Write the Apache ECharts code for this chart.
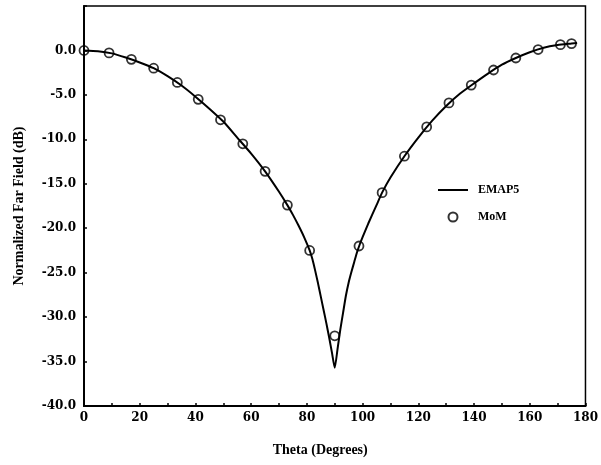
<!DOCTYPE html>
<html>
<head>
<meta charset="utf-8">
<script src="https://cdn.jsdelivr.net/npm/echarts@6/dist/echarts.min.js"></script>
<style>html,body{margin:0;padding:0;background:#fff}#c{width:601px;height:465px}</style>
</head>
<body>
<div id="c"></div>
<script>
// EMAP5 curve (Theta in degrees, normalized far field in dB)
const thetaLine = [0,5,10,15,20,25,30,35,40,45,50,55,60,65,70,73,75,77,79,81,82,83,84,85,86,87,88,89,90,91,92,93,94,95,96,97,98,99,100,102,105,107,110,115,120,125,130,135,140,145,150,155,160,165,170,175,177];
const emap5 = [0.0,-0.08,-0.33,-0.8,-1.35,-2.0,-2.9,-3.95,-5.2,-6.55,-8.0,-9.8,-11.6,-13.6,-15.9,-17.4,-18.5,-19.7,-21.0,-22.5,-23.5,-24.8,-26.2,-27.7,-29.2,-30.7,-32.3,-34.0,-35.7,-33.6,-31.4,-29.5,-27.6,-26.1,-24.9,-23.8,-22.7,-21.8,-21.0,-19.5,-17.4,-16.0,-14.3,-11.9,-9.8,-7.9,-6.25,-4.85,-3.7,-2.6,-1.6,-0.85,-0.2,0.3,0.6,0.78,0.85];
// MoM samples
const thetaMoM = [0,9,17,25,33.5,41,49,57,65,73,81,90,98.7,107,115,123,131,139,147,155,163,171,175];
const mom = [0.0,-0.28,-1.0,-2.0,-3.6,-5.5,-7.8,-10.5,-13.6,-17.4,-22.5,-32.1,-22.0,-16.0,-11.9,-8.6,-5.9,-3.9,-2.2,-0.85,0.1,0.65,0.77];
const yTicks = [-40,-35,-30,-25,-20,-15,-10,-5,0];

const chart = echarts.init(document.getElementById('c'), null, {renderer:'canvas'});
const lbl = {color:'#000', fontFamily:'DejaVu Serif', fontWeight:'bold', fontSize:12};
const nm = {color:'#000', fontFamily:'Liberation Serif', fontWeight:'bold', fontSize:14};
chart.setOption({
  animation:false,
  backgroundColor:'#fff',
  grid:{left:84, right:10, top:6, bottom:59, show:true, borderColor:'#000', borderWidth:1.5},
  xAxis:{type:'value', min:0, max:180, interval:20,
    name:'Theta (Degrees)', nameLocation:'middle', nameGap:37,
    nameTextStyle:Object.assign({}, nm, {padding:[0,29,0,0]}),
    axisLine:{show:true, onZero:false, lineStyle:{color:'#000', width:2}},
    axisTick:{show:true, inside:true, length:3, lineStyle:{color:'#000', width:1.5}},
    minorTick:{show:true, splitNumber:2, length:3, lineStyle:{color:'#000', width:1.5}},
    splitLine:{show:false},
    axisLabel:Object.assign({}, lbl, {margin:6})},
  yAxis:{type:'value', min:-40, max:5, interval:5,
    name:'Normalized Far Field (dB)', nameLocation:'middle', nameGap:58,
    nameTextStyle:nm,
    axisLine:{show:true, onZero:false, lineStyle:{color:'#000', width:2}},
    axisTick:{show:true, inside:true, length:3, lineStyle:{color:'#000', width:1.5}},
    splitLine:{show:false},
    axisLabel:Object.assign({}, lbl, {margin:8, formatter:function(v){return yTicks.indexOf(v)>=0 ? v.toFixed(1) : '';}})},
  legend:{orient:'vertical', left:438, top:184, padding:0, itemWidth:30, itemHeight:9, itemGap:15,
    textStyle:Object.assign({}, nm, {fontSize:12, padding:[0,0,0,5]}),
    data:[{name:'EMAP5', icon:'path://M0,0L30,0L30,2L0,2Z', itemStyle:{color:'#000'}}, {name:'MoM'}]},
  series:[
    {name:'EMAP5', type:'line', data:thetaLine.map((t,i)=>[t, emap5[i]]), symbol:'none', smooth:0.2,
     lineStyle:{color:'#000', width:2}, itemStyle:{color:'#000'}},
    {name:'MoM', type:'scatter', data:thetaMoM.map((t,i)=>[t, mom[i]]), symbol:'circle', symbolSize:9,
     itemStyle:{color:'rgba(255,255,255,0)', borderColor:'#000', borderWidth:1.8}, z:3}
  ]
});
</script>
</body>
</html>
